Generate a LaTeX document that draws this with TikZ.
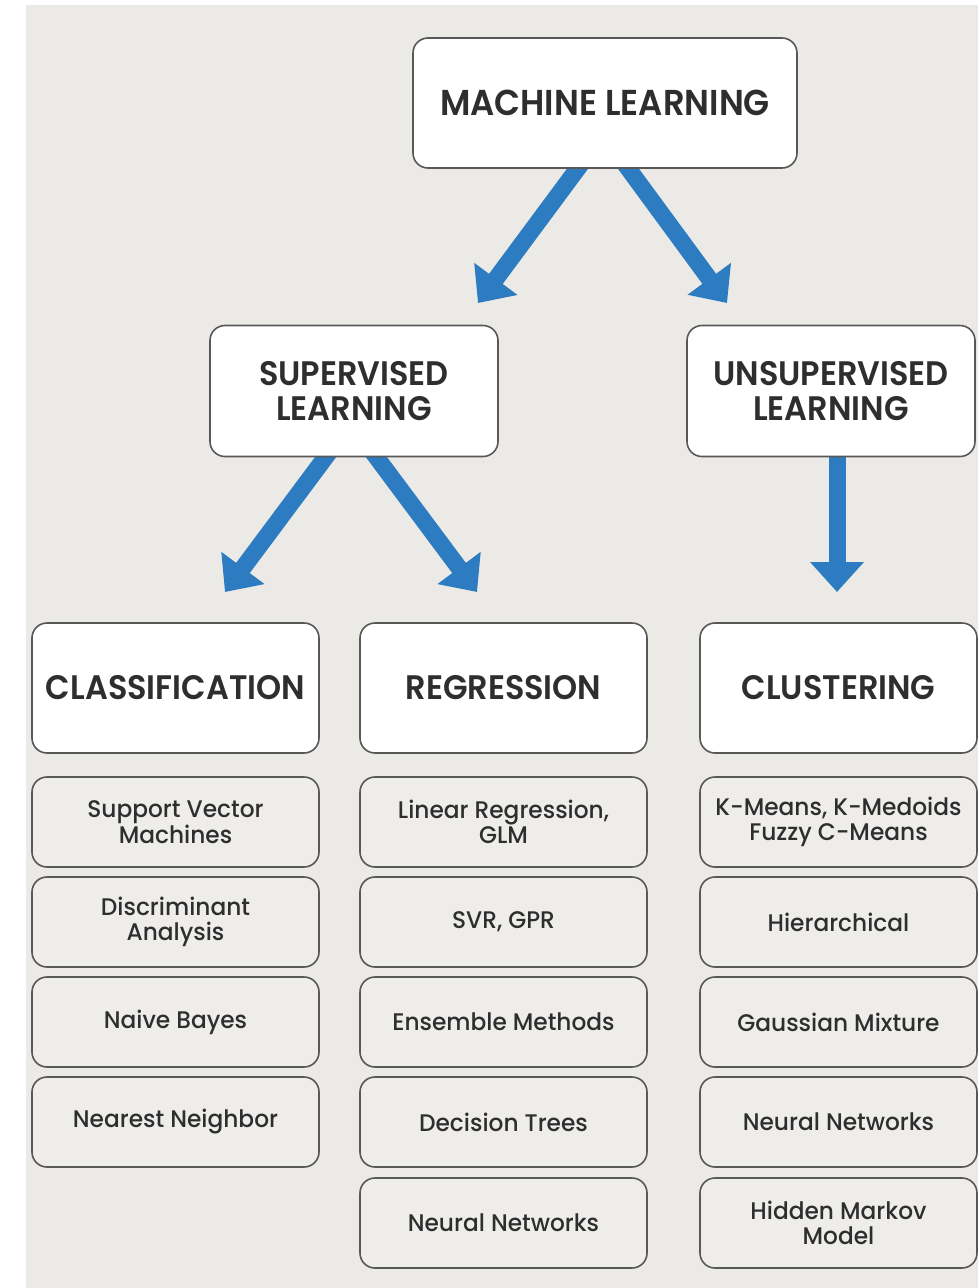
\documentclass[tikz,border=0pt]{standalone}
\usepackage{fontspec}
\setmainfont{Poppins}
\newfontfamily\headfont{Poppins SemiBold}[FakeStretch=0.94]
\newfontfamily\itemfont{Poppins Medium}[FakeStretch=0.97]
\usetikzlibrary{arrows.meta}
\pgfdeclarelayer{back}
\pgfsetlayers{back,main}
\definecolor{pagebg}{HTML}{EBEAE6}
\definecolor{itembg}{HTML}{EEEDE9}
\definecolor{frame}{HTML}{585858}
\definecolor{ink}{HTML}{2E2E30}
\definecolor{flow}{HTML}{2D7BC0}
\tikzset{
  box/.style={draw=frame, line width=1.6pt, rounded corners=15pt, text=ink,
    align=center, inner sep=0pt, outer sep=0pt},
  headbox/.style={box, fill=white, font=\fontsize{34}{35}\headfont},
  itembox/.style={box, fill=itembg, minimum height=90pt,
    font=\fontsize{24}{24.5}\itemfont},
  bigarrow/.style={draw=flow, line width=17pt,
    -{Triangle[width=52pt,length=30pt]}},
}
\begin{document}
\begin{tikzpicture}[x=1pt, y=-1pt]
  \useasboundingbox (0,0) rectangle (978,1288);

  % arrow tips
  \coordinate (tipSup) at (478,303);
  \coordinate (tipUns) at (727,303);
  \coordinate (tipCla) at (225,592);
  \coordinate (tipReg) at (477,592);
  \coordinate (tipClu) at (837,592);

  % top level
  \node[headbox, minimum width=384pt, minimum height=130pt,
        font=\fontsize{36}{38}\headfont] (ml) at (605,103) {MACHINE LEARNING};
  \node[headbox, minimum width=288pt, minimum height=131pt] (sup) at (354,391) {SUPERVISED\\LEARNING};
  \node[headbox, minimum width=288pt, minimum height=131pt] (uns) at (831,391) {UNSUPERVISED\\LEARNING};

  % categories
  \node[headbox, minimum width=287pt, minimum height=130pt] (cla) at (175.5,688) {CLASSIFICATION};
  \node[headbox, minimum width=287pt, minimum height=130pt] (reg) at (503.5,688) {REGRESSION};
  \node[headbox, minimum width=277pt, minimum height=130pt] (clu) at (838.5,688) {CLUSTERING};

  % flows, tucked under the boxes they leave from
  \begin{pgfonlayer}{back}
    \fill[pagebg] (26,5) rectangle (978,1288);
    \draw[bigarrow] ([xshift=-21pt,yshift=8pt]ml.south) -- (tipSup);
    \draw[bigarrow] ([xshift=17pt,yshift=8pt]ml.south) -- (tipUns);
    \draw[bigarrow] ([xshift=-22pt,yshift=8pt]sup.south) -- (tipCla);
    \draw[bigarrow] ([xshift=16pt,yshift=8pt]sup.south) -- (tipReg);
    \draw[bigarrow] ([yshift=8pt]uns.south -| tipClu) -- (tipClu);
  \end{pgfonlayer}

  % classification methods
  \node[itembox, minimum width=287pt] (c1) at (175.5,822) {Support Vector\\Machines};
  \node[itembox, minimum width=287pt] (c2) at (175.5,922) {Discriminant\\Analysis};
  \node[itembox, minimum width=287pt] (c3) at (175.5,1022) {Naive Bayes};
  \node[itembox, minimum width=287pt] (c4) at (175.5,1122) {Nearest Neighbor};

  % regression methods
  \node[itembox, minimum width=287pt] (r1) at (503.5,822) {Linear Regression,\\GLM};
  \node[itembox, minimum width=287pt] (r2) at (503.5,922) {SVR, GPR};
  \node[itembox, minimum width=287pt] (r3) at (503.5,1022) {Ensemble Methods};
  \node[itembox, minimum width=287pt] (r4) at (503.5,1122) {Decision Trees};
  \node[itembox, minimum width=287pt] (r5) at (503.5,1223) {Neural Networks};

  % clustering methods
  \node[itembox, minimum width=277pt] (k1) at (838.5,822) {K-Means, K-Medoids\\Fuzzy C-Means};
  \node[itembox, minimum width=277pt] (k2) at (838.5,922) {Hierarchical};
  \node[itembox, minimum width=277pt] (k3) at (838.5,1022) {Gaussian Mixture};
  \node[itembox, minimum width=277pt] (k4) at (838.5,1122) {Neural Networks};
  \node[itembox, minimum width=277pt] (k5) at (838.5,1223) {Hidden Markov\\Model};
\end{tikzpicture}
\end{document}
